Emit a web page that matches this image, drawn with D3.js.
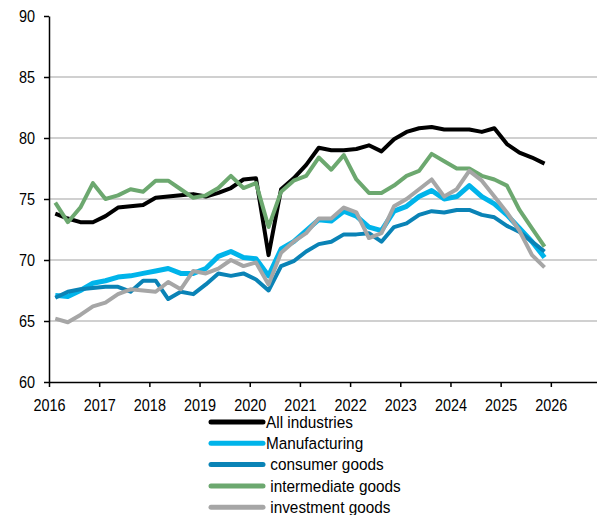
<!DOCTYPE html>
<html><head><meta charset="utf-8">
<script src="https://cdn.jsdelivr.net/npm/d3@7"></script>
<style>
body{margin:0;background:#fff;}
text{font-family:"Liberation Sans",Arial,sans-serif;fill:#000;}
</style></head>
<body><svg id="c" width="597" height="515"></svg>
<script>
const yearTicks = [2016,2017,2018,2019,2020,2021,2022,2023,2024,2025,2026];
const yTicks = [60,65,70,75,80,85,90];
const seriesNames = ["All industries","Manufacturing"," consumer goods"," intermediate goods"," investment goods"];
const allIndustries = [73.8,73.4,73.1,73.1,73.6,74.3,74.4,74.5,75.1,75.2,75.3,75.4,75.2,75.5,75.9,76.6,76.7,70.4,75.8,76.7,77.8,79.2,79.0,79.0,79.1,79.4,78.9,79.9,80.5,80.8,80.9,80.7,80.7,80.7,80.5,80.8,79.5,78.8,78.4,77.9];
const manufacturing = [67.1,67.0,67.5,68.1,68.3,68.6,68.7,68.9,69.1,69.3,68.9,68.9,69.3,70.3,70.7,70.2,70.1,68.7,70.9,71.5,72.4,73.3,73.2,74.0,73.6,72.7,72.4,74.0,74.4,75.2,75.7,75.0,75.2,76.1,75.2,74.6,73.7,72.6,71.5,70.2];
const consumerGoods = [66.9,67.4,67.6,67.7,67.8,67.8,67.4,68.3,68.3,66.8,67.4,67.2,68.0,68.9,68.7,68.9,68.4,67.5,69.5,69.9,70.7,71.3,71.5,72.1,72.1,72.2,71.5,72.7,73.0,73.7,74.0,73.9,74.1,74.1,73.7,73.5,72.8,72.3,71.5,70.7];
const intermediateGoods = [74.7,73.1,74.3,76.3,75.0,75.3,75.8,75.6,76.5,76.5,75.8,75.1,75.3,75.9,76.9,75.9,76.3,72.7,75.6,76.5,76.9,78.4,77.4,78.6,76.6,75.5,75.5,76.1,76.9,77.3,78.7,78.1,77.5,77.5,76.9,76.6,76.1,74.1,72.6,71.1];
const investmentGoods = [65.2,64.9,65.5,66.2,66.5,67.2,67.6,67.5,67.4,68.2,67.6,69.1,68.9,69.3,70.0,69.5,69.8,68.0,70.6,71.5,72.2,73.4,73.4,74.3,73.9,71.8,72.2,74.4,75.0,75.8,76.6,75.2,75.8,77.3,76.5,75.2,73.9,72.4,70.4,69.4];
const colors = ["#000000","#00B4EA","#0A83B6","#6CA86F","#A6A6A6"];
const widths = [4,5,4,4,4];

const data = [allIndustries,manufacturing,consumerGoods,intermediateGoods,investmentGoods];
const svg = d3.select("#c");
const x = d3.scaleLinear().domain([2016, 2026.92]).range([49, 597]);
const y = d3.scaleLinear().domain([60, 90]).range([382, 16]);
const tx = i => 2016 + (i + 0.5) / 4;
const axSq = 0.85, lgSq = 0.93;

// gridlines
svg.append("g").selectAll("line").data(yTicks.filter(v => v > 60 && v < 90)).join("line")
  .attr("x1", x(2016)).attr("x2", x.range()[1])
  .attr("y1", d => y(d)).attr("y2", d => y(d))
  .attr("stroke", "#c0c0c0").attr("stroke-width", 1.5);

// axes
const ax = svg.append("g").attr("transform", `translate(0,${y(60)})`)
  .call(d3.axisBottom(x).tickValues(yearTicks).tickFormat(d3.format("d")).tickSize(5).tickSizeOuter(0));
ax.select(".domain").attr("stroke-width", 1.5);
ax.selectAll(".tick line").attr("stroke-width", 1.5);
ax.selectAll("text").attr("dy", null).attr("y", 29)
  .attr("transform", `scale(${axSq},1)`)
  .style("font-size", "17px").style("font-family", "'Liberation Sans',Arial,sans-serif");

const ay = svg.append("g").attr("transform", `translate(${x(2016)},0)`)
  .call(d3.axisLeft(y).tickValues(yTicks).tickSize(5).tickSizeOuter(0));
ay.select(".domain").attr("stroke-width", 1.5);
ay.selectAll(".tick line").attr("stroke-width", 1.5);
ay.selectAll("text").attr("x", -14 / axSq).attr("transform", `scale(${axSq},1)`)
  .style("font-size", "17px").style("font-family", "'Liberation Sans',Arial,sans-serif");

// lines
const line = d3.line().x((d, i) => x(tx(i))).y(d => y(d));
data.forEach((s, k) => {
  svg.append("path").datum(s).attr("d", line)
    .attr("fill", "none").attr("stroke", colors[k]).attr("stroke-width", widths[k])
    .attr("stroke-linejoin", "round");
});

// legend
const lg = svg.append("g");
seriesNames.forEach((n, k) => {
  const yy = 422 + k * 21.3;
  lg.append("line").attr("x1", 211).attr("x2", 263).attr("y1", yy).attr("y2", yy)
    .attr("stroke", colors[k]).attr("stroke-width", 5).attr("stroke-linecap", "round");
  lg.append("g").attr("transform", `translate(266,${yy}) scale(${lgSq},1)`)
    .append("text").attr("x", 0).attr("y", 0).attr("dy", "0.35em")
    .style("font-size", "16.5px").style("white-space", "pre").text(n);
});
</script></body></html>
